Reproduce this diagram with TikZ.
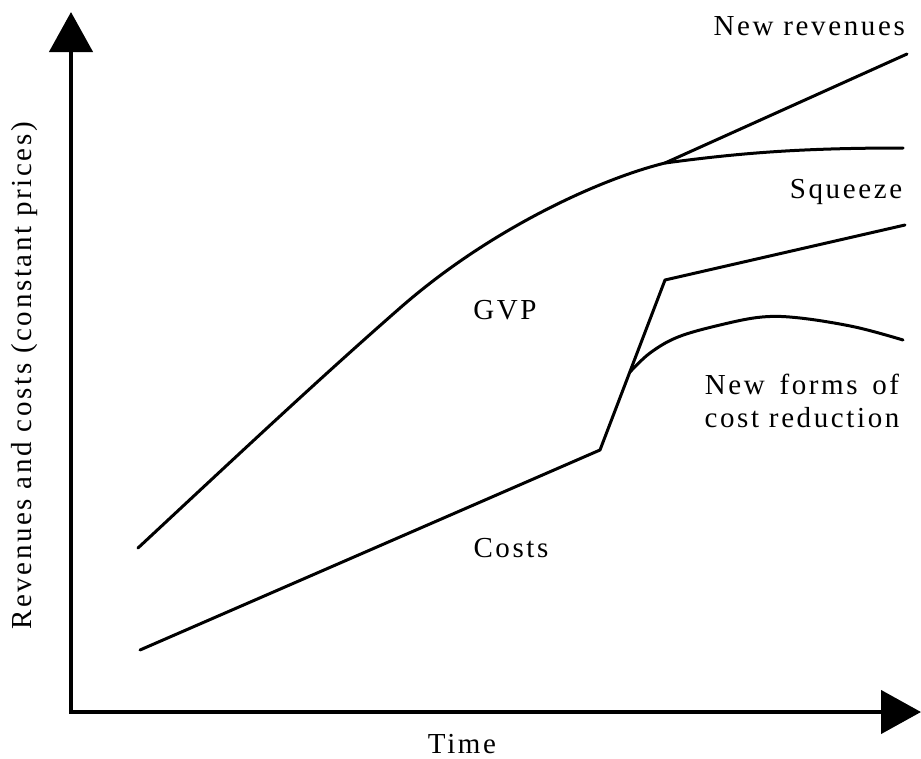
\documentclass[tikz,border=0pt]{standalone}
\usepackage{fontspec}
\setmainfont{Liberation Serif}
\usetikzlibrary{arrows.meta}
\tikzset{
  axis/.style={line width=4.5pt, line join=miter, {Triangle[width=43pt,length=40pt]}-{Triangle[width=43pt,length=40pt]}},
  curve/.style={line width=3pt, line join=round, line cap=round},
  lbl/.style={font=\fontsize{29}{33}\selectfont\addfontfeature{LetterSpace=9}, inner sep=0pt}
}
\begin{document}
\begin{tikzpicture}[x=1pt,y=-1pt]
\useasboundingbox (0,0) rectangle (921,758);
% axes
\coordinate (ytip) at (71,12);
\coordinate (origin) at (71,712);
\coordinate (xtip) at (921,712);
\draw[axis] (ytip) -- (origin) -- (xtip);
% GVP curve
\coordinate (g0) at (138,548);
\coordinate (gm) at (400,308);
\coordinate (split) at (665,163);
\draw[curve] (g0) .. controls (240,453) and (320,378) .. (gm)
  .. controls (490,229) and (600,179) .. (split);
% new revenues
\coordinate (nr) at (907,54);
\draw[curve] (split) -- (nr);
% squeeze
\coordinate (sq) at (903,148);
\draw[curve] (split) .. controls (740,153) and (800,148) .. (sq);
% costs
\coordinate (c0) at (140,650);
\coordinate (c1) at (600,450);
\coordinate (c2) at (665,280);
\coordinate (c3) at (905,225);
\draw[curve] (c0) -- (c1) -- (c2) -- (c3);
% new forms of cost reduction
\coordinate (b0) at (630,372);
\draw[curve] plot[smooth, tension=0.6] coordinates {(b0) (650,353) (678,337) (720,325) (762,317) (800,318) (855,327) (903,340)};
% labels
\node[lbl, anchor=east] (lnr) at (905,26) {New revenues};
\node[lbl] (lsq) at (846,192) {Squeeze};
\node[lbl] (lgvp) at (505,310) {GVP};
\node[lbl, align=center] (lnf) at (802,401) {New \,forms \,of\\cost reduction};
\node[lbl] (lcost) at (511,548) {Costs};
\node[lbl] (ltime) at (462,744) {Time};
\node[lbl, rotate=90] (ly) at (25,376) {Revenues and costs (constant prices)};
\end{tikzpicture}
\end{document}
